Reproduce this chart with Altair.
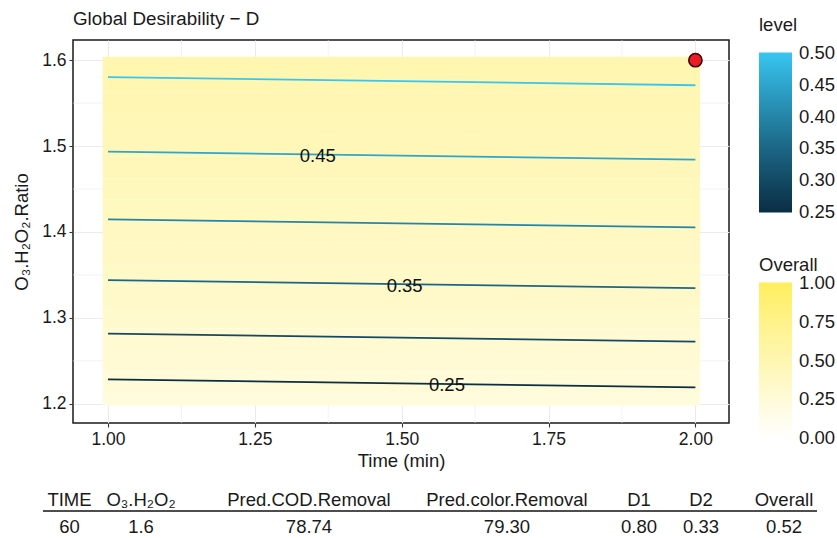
import altair as alt
import pandas as pd

# ---------------- data ----------------
# contour lines (level of global desirability), y at Time = 1.0 and Time = 2.0
levels = [0.25, 0.30, 0.35, 0.40, 0.45, 0.50]
line_time = [1.0, 2.0]
ratio_at_start = [1.2283, 1.2816, 1.3438, 1.4146, 1.4935, 1.5802]
ratio_at_end = [1.2190, 1.2723, 1.3345, 1.4052, 1.4842, 1.5708]

# contour labels
label_text = ["0.45", "0.35", "0.25"]
label_time = [1.357, 1.505, 1.577]
label_ratio = [1.489, 1.337, 1.222]

# raster (overall desirability by O3.H2O2 ratio)
raster_ratio = [1.200, 1.225, 1.250, 1.275, 1.300, 1.325, 1.350, 1.375, 1.400,
                1.425, 1.450, 1.475, 1.500, 1.525, 1.550, 1.575, 1.600]
raster_overall = [0.227, 0.251, 0.275, 0.298, 0.318, 0.339, 0.358, 0.375, 0.393,
                  0.409, 0.425, 0.441, 0.456, 0.471, 0.485, 0.500, 0.513]
raster_time_range = [0.991, 2.008]
raster_ratio_range = [1.198, 1.604]

# optimum point
opt_time = [2.0]
opt_ratio = [1.6]

# axes
x_ticks = [1.0, 1.25, 1.5, 1.75, 2.0]
y_ticks = [1.2, 1.3, 1.4, 1.5, 1.6]
x_domain = [0.9404, 2.0572]
y_domain = [1.1775, 1.6235]

# titles
chart_title = "Global Desirability \u2212 D"

# summary table
table_headers = ["TIME", "O\u2083.H\u2082O\u2082", "Pred.COD.Removal", "Pred.color.Removal", "D1", "D2", "Overall"]
table_values = ["60", "1.6", "78.74", "79.30", "0.80", "0.33", "0.52"]

level_ticks = [0.25, 0.30, 0.35, 0.40, 0.45, 0.50]
overall_ticks = [0.0, 0.25, 0.5, 0.75, 1.0]

# ---------------- layout ----------------
PAD_L, PAD_T = 73, 40
W, H = 656, 383
FONT = "Liberation Sans, Arial, Helvetica, sans-serif"
TXT = "#1A1A1A"
EPS = 1e-4

xscale = alt.Scale(domain=x_domain, nice=False, zero=False)
yscale = alt.Scale(domain=y_domain, nice=False, zero=False)
xaxis = alt.Axis(values=x_ticks, format=".2f", title="Time (min)", grid=True,
                 labelPadding=3, titlePadding=4)
yaxis = alt.Axis(values=y_ticks, format=".1f", title="O\u2083.H\u2082O\u2082.Ratio", grid=True,
                 labelPadding=3, titlePadding=10)

def X(f):
    return alt.X(f, type="quantitative", scale=xscale, axis=xaxis)

def Y(f):
    return alt.Y(f, type="quantitative", scale=yscale, axis=yaxis)

# minor grid
x_minor = [(a + b) / 2 for a, b in zip(x_ticks[:-1], x_ticks[1:])]
y_minor = [(a + b) / 2 for a, b in zip(y_ticks[:-1], y_ticks[1:])]
minor_x = alt.Chart(pd.DataFrame({"t": x_minor})).mark_rule(
    color="#EBEBEB", strokeWidth=0.6).encode(x=X("t"))
minor_y = alt.Chart(pd.DataFrame({"r": y_minor})).mark_rule(
    color="#EBEBEB", strokeWidth=0.6).encode(y=Y("r"))

# raster rows
lo, hi = [], []
for i, r in enumerate(raster_ratio):
    lo.append(raster_ratio_range[0] if i == 0 else (raster_ratio[i - 1] + r) / 2)
    hi.append(raster_ratio_range[1] if i == len(raster_ratio) - 1 else (raster_ratio[i + 1] + r) / 2)
raster_df = pd.DataFrame({
    "t0": raster_time_range[0], "t1": raster_time_range[1],
    "r0": lo, "r1": hi, "Overall": raster_overall,
})
raster = alt.Chart(raster_df).mark_rect(strokeWidth=0).encode(
    x=X("t0"), x2="t1", y=Y("r0"), y2="r1",
    fill=alt.Fill("Overall:Q",
                  scale=alt.Scale(domain=[0 - EPS, 1 + EPS], range=["#FFFFFF", "#FFEE5C"], interpolate="lab"),
                  legend=alt.Legend(title="Overall", orient="none", legendX=686, legendY=216,
                                    direction="vertical", gradientLength=156, gradientThickness=33,
                                    values=overall_ticks, format=".2f", labelOverlap=False,
                                    titlePadding=8, labelOffset=7,
                                    gradientStrokeWidth=0, padding=0)),
)

# contour lines
rows = []
for lv, a, b in zip(levels, ratio_at_start, ratio_at_end):
    rows.append({"level": lv, "time": line_time[0], "ratio": a})
    rows.append({"level": lv, "time": line_time[1], "ratio": b})
lines_df = pd.DataFrame(rows)
lines = alt.Chart(lines_df).mark_line(strokeWidth=1.8).encode(
    x=X("time"), y=Y("ratio"), detail="level:Q",
    stroke=alt.Stroke("level:Q",
                      scale=alt.Scale(domain=[0.25 - EPS, 0.50 + EPS], range=["#0A2E44", "#38C6F2"],
                                      interpolate="lab"),
                      legend=alt.Legend(title="level", orient="none", legendX=686, legendY=-24,
                                        direction="vertical", gradientLength=160, gradientThickness=33,
                                        values=level_ticks, format=".2f", labelOverlap=False,
                                        titlePadding=18, labelOffset=7,
                                        gradientStrokeWidth=0, padding=0)),
)

labels = alt.Chart(pd.DataFrame({"t": label_time, "r": label_ratio, "txt": label_text})).mark_text(
    fontSize=18.5, color="#111111", font=FONT).encode(x=X("t"), y=Y("r"), text="txt")

point = alt.Chart(pd.DataFrame({"t": opt_time, "r": opt_ratio})).mark_point(
    filled=True, shape="circle", size=175, color="#EC1C27", stroke="#3A0808", strokeWidth=1.6,
    opacity=1).encode(x=X("t"), y=Y("r"))

# title as text
title_layer = alt.Chart(pd.DataFrame({"s": [chart_title]})).mark_text(
    fontSize=18.8, color=TXT, font=FONT, align="left", baseline="alphabetic").encode(
    x=alt.value(0), y=alt.value(25 - PAD_T), text="s")

# table below the chart
col_px = [69.5, 141, 309, 507, 639, 701, 784]
head_y, val_y, rule_y = 506, 533, 511
table_layers = []
for i in range(len(table_headers)):
    df = pd.DataFrame({"h": [table_headers[i]], "v": [table_values[i]]})
    base = alt.Chart(df).mark_text(fontSize=18.5, color=TXT, font=FONT, baseline="alphabetic", align="center")
    table_layers.append(base.encode(x=alt.value(col_px[i] - PAD_L), y=alt.value(head_y - PAD_T), text="h"))
    table_layers.append(base.encode(x=alt.value(col_px[i] - PAD_L), y=alt.value(val_y - PAD_T), text="v"))
table_rule = alt.Chart(pd.DataFrame({"a": [0]})).mark_rule(color="#4D4D4D", strokeWidth=2).encode(
    x=alt.value(43 - PAD_L), x2=alt.value(817 - PAD_L), y=alt.value(rule_y - PAD_T))

chart = alt.layer(minor_x, minor_y, raster, lines, labels, point, title_layer, table_rule,
                  *table_layers).properties(
    width=W, height=H,
    autosize=alt.AutoSizeParams(type="none"),
    padding={"left": PAD_L, "top": PAD_T, "right": 837 - PAD_L - W, "bottom": 538 - PAD_T - H},
).resolve_scale(fill="independent", stroke="independent").configure(
    font=FONT, background="white"
).configure_view(
    stroke="#1A1A1A", strokeWidth=1.5
).configure_axis(
    domain=False, gridColor="#EBEBEB", gridWidth=1.1, tickColor="#333333", tickSize=4, tickWidth=1.1,
    labelFontSize=17.5, labelColor=TXT, labelFont=FONT, titleFontSize=18.5, titleColor=TXT,
    titleFontWeight="normal", titleFont=FONT,
).configure_legend(
    titleFontSize=18.5, titleFontWeight="normal", titleColor=TXT, labelFontSize=18.5, labelColor=TXT,
    titleFont=FONT, labelFont=FONT,
)

chart.save("out.html", embed_options={"renderer": "svg", "actions": False})
